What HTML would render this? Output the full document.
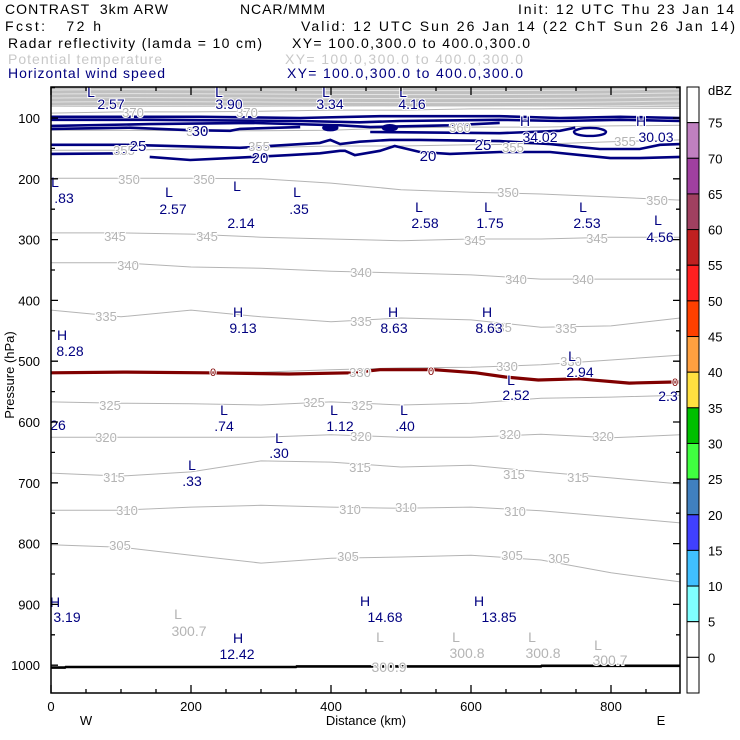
<!DOCTYPE html>
<html><head><meta charset="utf-8"><style>
html,body{margin:0;padding:0;background:#fff;}
svg{display:block;font-family:"Liberation Sans",sans-serif;}
</style></head><body>
<svg id="chart" width="740" height="740" viewBox="0 0 740 740" xmlns="http://www.w3.org/2000/svg">
<g font-size="14">
<text x="5" y="14" textLength="163" xml:space="preserve">CONTRAST  3km ARW</text>
<text x="240" y="14" textLength="85">NCAR/MMM</text>
<text x="518" y="14" textLength="216">Init: 12 UTC Thu 23 Jan 14</text>
<text x="5" y="31" textLength="96" xml:space="preserve">Fcst:   72 h</text>
<text x="301" y="31" textLength="434">Valid: 12 UTC Sun 26 Jan 14 (22 ChT Sun 26 Jan 14)</text>
<text x="8" y="48" textLength="254">Radar reflectivity (lamda = 10 cm)</text>
<text x="292" y="48" textLength="238">XY= 100.0,300.0 to 400.0,300.0</text>
<text x="8" y="64" textLength="154" fill="#c8c8c8">Potential temperature</text>
<text x="285" y="64" textLength="238" fill="#c8c8c8">XY= 100.0,300.0 to 400.0,300.0</text>
<text x="8" y="78" textLength="157" fill="#000080">Horizontal wind speed</text>
<text x="287" y="78" textLength="236" fill="#000080">XY= 100.0,300.0 to 400.0,300.0</text>
</g>
<g id="plot"></g>
<g id="axes"></g>
<g id="cbar"></g>
</svg>
<script>
// ---- data ----
const distKm = [0,100,200,300,400,500,600,700,800,899];
const theta305 = [802,806,819,832,824,822,819,827,848,863];
const theta310 = [745,745,740,737,740,742,740,746,756,766];
const theta315 = [684,689,682,664,666,674,671,682,692,702];
const theta320 = [625,625,625,625,621,625,625,620,626,621];
const theta325 = [567,569,570,572,567,572,569,561,559,556];
const theta330 = [518,518,518,518,514,511,510,506,498,490];
const theta335 = [416,427,416,427,435,429,432,444,442,429];
const theta340 = [338,338,345,347,352,355,358,365,365,365];
const theta345 = [289,289,291,296,299,302,299,299,296,296];
const theta350 = [199,199,199,200,207,218,222,225,230,235];
const theta355 = [153,153,151,149,146,146,144,143,139,136];
const theta360 = [120,120,121,121,120,116,115,115,113,112];
const theta370 = [92,90,90,89,87,87,85,85,84,84];
const freezeKm = [0,103,221,340,429,470,547,607,649,696,754,826,897];
const freezeHpa = [519,518,519,521,519,514,514,519,526,531,529,536,534];
const sfcKm = [0,20,21,350,351,700,701,899];
const sfcHpa = [1004,1004,1003,1003,1002,1002,1001,1001];
const wind20Km = [141,199,256,341,384,413,420,434,470,491,527,570,641,713,756,799,841,899];
const wind20Hpa = [164,169,166,161,158,154,154,161,154,146,156,159,156,156,161,166,166,164];
const wind25aKm = [0,106,270,384,399,413,441,484,527,641,713,756,784,841,870,899];
const wind25aHpa = [144,144,149,141,136,143,139,136,136,138,143,148,151,151,144,143];
const wind25bKm = [0,109];
const wind25bHpa = [159,158];
const wind30Km = [0,113,199,256,270,356];
const wind30Hpa = [118,116,120,121,118,115];
const wind35aKm = [0,213,356,470,641,727,813,899];
const wind35aHpa = [98,98,100,97,97,100,98,100];
const wind35bKm = [0,141,356,441,499,641,727,813,899];
const wind35bHpa = [103,103,105,107,105,103,105,103,105];
const wind35cKm = [0,141,284,413,456,570,641];
const wind35cHpa = [113,110,108,112,115,112,108];
const wind40Km = [456,641,727,749];
const wind40Hpa = [123,125,121,116];
const dbzLevels = ["75","70","65","60","55","50","45","40","35","30","25","20","15","10","5","0"];
const dbzColors = ["#ffffff","#c080c0","#a040a0","#a04060","#c02020","#ff2020","#ff4000","#ffa040","#ffe040","#00c000","#40ff40","#4080c0","#4040ff","#40c0ff","#80ffff","#ffffff","#ffffff"];
const pTicks = [100,200,300,400,500,600,700,800,900,1000];
const xTicks = [0,200,400,600,800];

// ---- axes functions ----
const X0=51, X1=680, Y0=87, Y1=693;
function xs(km){return 51 + km*0.7;}
function ys(p){return 118 + (p-100)*0.608;}
const NS='http://www.w3.org/2000/svg';
function mk(tag, attrs, parent){const e=document.createElementNS(NS,tag);for(const k in attrs)e.setAttribute(k,attrs[k]);parent.appendChild(e);return e;}
function pathFrom(km,hp){return km.map((k,i)=>(i?'L':'M')+xs(k).toFixed(1)+' '+ys(hp[i]).toFixed(1)).join(' ');}
const plot=document.getElementById('plot');

let band=mk('rect',{x:X0,y:Y0,width:X1-X0,height:20,fill:'#c0c0c0'},plot);


for(let i=0;i<5;i++){
  let l=mk('path',{d:'M51 '+(90+i*4)+' C200 '+(88+i*4)+' 400 '+(93+i*4)+' 680 '+(89+i*4),stroke:'#e4e4e4','stroke-width':1,fill:'none'},plot);
  
  
}

const thetaSets=[[305,theta305],[310,theta310],[315,theta315],[320,theta320],[325,theta325],[330,theta330],[335,theta335],[340,theta340],[345,theta345],[350,theta350],[355,theta355],[360,theta360],[370,theta370]];
thetaSets.forEach(([v,arr])=>{
  let p=mk('path',{d:pathFrom(distKm,arr),stroke:'#b4b4b4','stroke-width':1,fill:'none'},plot);
  
  
});

const windSets=[['20',wind20Km,wind20Hpa],['25a',wind25aKm,wind25aHpa],['25b',wind25bKm,wind25bHpa],['30',wind30Km,wind30Hpa],['35a',wind35aKm,wind35aHpa],['35b',wind35bKm,wind35bHpa],['35c',wind35cKm,wind35cHpa],['40',wind40Km,wind40Hpa]];
windSets.forEach(([n,k,h])=>{
  let p=mk('path',{d:pathFrom(k,h),stroke:'#000080','stroke-width':2.6,fill:'none'},plot);
  
  
});
[[399,116],[484,116],[770,123]].forEach(([k,h])=>{
  let e=mk('ellipse',{cx:xs(k),cy:ys(h),rx:k>700?16:7,ry:k>700?4:2.5,fill:k>700?'none':'#000080',stroke:'#000080','stroke-width':2.4},plot);
  
  
});

let fz=mk('path',{d:pathFrom(freezeKm,freezeHpa),stroke:'#800000','stroke-width':3.2,fill:'none'},plot);


let sf=mk('path',{d:pathFrom(sfcKm,sfcHpa),stroke:'#000','stroke-width':2.6,fill:'none'},plot);



function lab(t,x,y,c,name,size){
  let e=mk('text',{x:x,y:y,fill:c,'font-size':size||13,'text-anchor':'middle',stroke:'#fff','stroke-width':2,'paint-order':'stroke'},plot);
  e.textContent=t;
  
  
}
const thetaLabels=[['350',129,184],['350',204,184],['350',508,197],['350',657,205],['345',115,241],['345',207,241],['345',475,245],['345',597,243],['340',128,270],['340',361,277],['340',516,284],['340',583,284],['335',106,321],['335',361,326],['335',501,332],['335',566,333],['330',360,377],['330',507,371],['330',571,366],['325',110,410],['325',314,407],['325',362,410],['320',106,442],['320',361,441],['320',510,439],['320',603,441],['315',114,482],['315',360,472],['315',514,479],['315',578,482],['310',127,515],['310',350,514],['310',406,512],['310',515,516],['305',120,550],['305',348,561],['305',512,560],['305',559,563],['355',124,155],['355',259,151],['355',513,152],['355',625,146],['360',197,136],['360',460,132],['370',133,117],['370',247,117]];
thetaLabels.forEach(a=>lab(a[0],a[1],a[2],'#b4b4b4','theta-label'));
[['0',213,376],['0',431,375],['0',675,386]].forEach(a=>lab(a[0],a[1],a[2],'#800000','freezing-label',11));
[['30',200,136],['25',138,151],['20',260,163],['20',428,161],['25',483,150]].forEach(a=>lab(a[0],a[1],a[2],'#000080','wind-contour-label',15));
const navyHL=[['L',91,97],['2.57',111,109],['L',219,97],['3.90',229,109],['L',326,97],['3.34',330,109],['L',403,97],['4.16',412,109],
['H',525,126],['34.02',540,142],['H',641,126],['30.03',656,142],
['L',55,187],['.83',64,203],['L',169,197],['2.57',173,214],['L',237,191],['2.14',241,228],['L',297,197],['.35',299,214],['L',419,212],['2.58',425,228],['L',488,212],['1.75',490,228],['L',583,212],['2.53',587,228],['L',658,225],['4.56',660,242],
['H',238,317],['9.13',243,333],['H',393,317],['8.63',394,333],['H',487,317],['8.63',489,333],['H',62,340],['8.28',70,356],
['L',572,361],['2.94',580,377],['L',511,385],['2.52',516,400],['2.3',668,401],['26',58,430],
['L',224,415],['.74',224,431],['L',334,415],['1.12',340,431],['L',404,415],['.40',405,431],['L',279,443],['.30',279,458],['L',192,470],['.33',192,486],
['H',55,607],['3.19',67,622],['H',365,606],['14.68',385,622],['H',479,606],['13.85',499,622],['H',238,643],['12.42',237,659]];
const grayHL=[['L',178,619],['300.7',189,636],['L',456,642],['300.8',467,658],['L',532,642],['300.8',543,658],['L',598,650],['300.7',610,665],['L',380,642],['300.9',389,672]];
grayHL.forEach(a=>lab(a[0],a[1],a[2],'#b4b4b4','theta-extremum-label',14));
navyHL.forEach(a=>lab(a[0],a[1],a[2],'#000080','wind-extremum-label',14));

const ax=document.getElementById('axes');
let fr=mk('rect',{x:X0,y:Y0,width:X1-X0,height:Y1-Y0,fill:'none',stroke:'#000','stroke-width':1.5},ax);


for(let p=50;p<=1050;p+=50){
  const y=ys(p); if(y<Y0||y>Y1)continue;
  const L=(p%100===0)?7:4;
  let t=mk('path',{d:`M${X0} ${y}h${L}M${X1} ${y}h${-L}`,stroke:'#000','stroke-width':1.3},ax);
  
  
}
pTicks.forEach(p=>{
  let t=mk('text',{x:40,y:ys(p)+5,'font-size':13,'text-anchor':'end'},ax);t.textContent=p;
  
  
});
for(let k=0;k<=899;k+=50){
  const x=xs(k);const L=(k%200===0)?8:4;
  let t=mk('path',{d:`M${x} ${Y1}v${-L}M${x} ${Y0}v${L}`,stroke:'#000','stroke-width':1.3},ax);
  
  
}
xTicks.forEach(k=>{
  let t=mk('text',{x:xs(k),y:711,'font-size':13,'text-anchor':'middle'},ax);t.textContent=k;
  
  
});
let xt=mk('text',{x:366,y:725,'font-size':13,'text-anchor':'middle'},ax);xt.textContent='Distance (km)';


let w=mk('text',{x:86,y:725,'font-size':13,'text-anchor':'middle'},ax);w.textContent='W';


let e=mk('text',{x:661,y:725,'font-size':13,'text-anchor':'middle'},ax);e.textContent='E';


let yt=mk('text',{x:0,y:0,'font-size':13,'text-anchor':'middle',transform:'translate(14,375) rotate(-90)'},ax);yt.textContent='Pressure (hPa)';



const cb=document.getElementById('cbar');
const segH=(Y1-Y0)/dbzColors.length;
dbzColors.forEach((c,i)=>{
  let r=mk('rect',{x:687,y:Y0+i*segH,width:12,height:segH,fill:c,stroke:'#000','stroke-width':1},cb);
  
  
});
dbzLevels.forEach((v,i)=>{
  let t=mk('text',{x:708,y:Y0+(i+1)*segH+5,'font-size':13},cb);t.textContent=v;
  
  
});
let du=mk('text',{x:708,y:95,'font-size':13},cb);du.textContent='dBZ';


</script>
</body></html>
